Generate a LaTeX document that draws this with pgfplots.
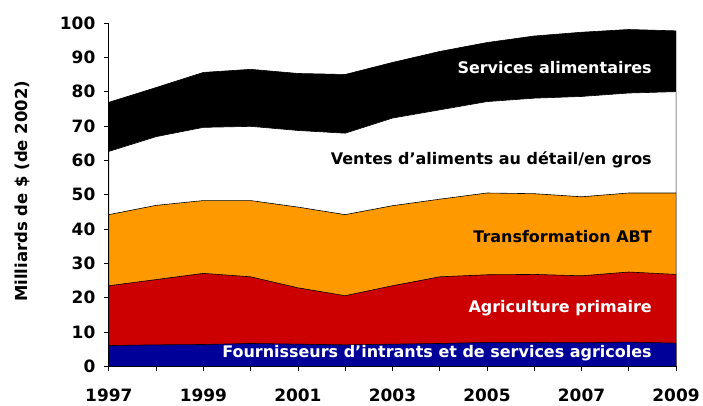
\documentclass[border=0pt]{standalone}
\usepackage{fontspec}
\setmainfont{DejaVu Sans}
\usepackage{pgfplots}
\pgfplotsset{compat=1.18}
\definecolor{cblue}{RGB}{0,0,153}
\definecolor{cred}{RGB}{204,0,0}
\definecolor{corange}{RGB}{255,153,0}
\begin{document}
\begin{tikzpicture}
\begin{axis}[
  name=ax,
  scale only axis,
  width=568pt, height=344pt,
  xmin=1997, xmax=2009, ymin=0, ymax=100,
  axis lines*=left,
  axis on top,
  axis line style={black, line width=0.8pt},
  tick align=outside,
  major tick length=5pt, minor tick length=5pt,
  tick style={black, line width=0.8pt},
  xtick={1997,1999,...,2009},
  minor xtick={1998,2000,...,2008},
  ytick={0,10,...,100},
  /pgf/number format/1000 sep={},
  /pgf/number format/assume math mode=true,
  tick label style={font=\bfseries\fontsize{17}{17}\selectfont},
  xticklabel style={yshift=-14pt},
  yticklabel style={xshift=-5pt},
  ylabel={Milliards de \$ (de 2002)},
  every axis y label/.style={at={(axis description cs:0,0.51)}, xshift=-87pt, rotate=90, anchor=center, font=\bfseries\fontsize{16.5}{16.5}\selectfont},
]
\addplot[fill=black, draw=black, line width=0.6pt] table {
1997 76.9
1998 81.2
1999 85.6
2000 86.5
2001 85.3
2002 85.0
2003 88.5
2004 91.7
2005 94.3
2006 96.2
2007 97.3
2008 98.1
2009 97.7
} \closedcycle;
\addplot[fill=white, draw=black, line width=0.6pt] table {
1997 62.6
1998 66.9
1999 69.6
2000 69.9
2001 68.7
2002 67.9
2003 72.3
2004 74.7
2005 77.1
2006 78.1
2007 78.6
2008 79.6
2009 80.0
} \closedcycle;
\addplot[fill=corange, draw=black, line width=0.6pt] table {
1997 44.2
1998 46.9
1999 48.3
2000 48.3
2001 46.4
2002 44.2
2003 46.8
2004 48.7
2005 50.5
2006 50.3
2007 49.4
2008 50.5
2009 50.5
} \closedcycle;
\addplot[fill=cred, draw=black, line width=0.6pt] table {
1997 23.5
1998 25.3
1999 27.1
2000 26.1
2001 22.9
2002 20.6
2003 23.5
2004 26.1
2005 26.7
2006 26.8
2007 26.4
2008 27.5
2009 26.8
} \closedcycle;
\addplot[fill=cblue, draw=black, line width=0.6pt] table {
1997 6.1
1998 6.3
1999 6.4
2000 6.7
2001 6.5
2002 6.3
2003 6.5
2004 6.7
2005 7.0
2006 7.0
2007 6.9
2008 7.1
2009 6.8
} \closedcycle;
\node[anchor=east, inner sep=0pt, text=white, font=\bfseries\fontsize{16}{16}\selectfont] at (axis cs:2008.49,86.9) {Services alimentaires};
\node[anchor=east, inner sep=0pt, text=black, font=\bfseries\fontsize{16}{16}\selectfont] at (axis cs:2008.49,60.2) {Ventes d’aliments au détail/en gros};
\node[anchor=east, inner sep=0pt, text=black, font=\bfseries\fontsize{16}{16}\selectfont] at (axis cs:2008.49,37.8) {Transformation ABT};
\node[anchor=east, inner sep=0pt, text=white, font=\bfseries\fontsize{16}{16}\selectfont] at (axis cs:2008.49,16.9) {Agriculture primaire};
\node[anchor=east, inner sep=0pt, text=white, font=\bfseries\fontsize{16}{16}\selectfont] at (axis cs:2008.49,3.8) {Fournisseurs d’intrants et de services agricoles};
\end{axis}
\path (ax.south west) ++(-109pt,-39pt) coordinate (bl);
\path (ax.south west) ++(594pt,367pt) coordinate (tr);
\path (bl) rectangle (tr);
\end{tikzpicture}
\end{document}
